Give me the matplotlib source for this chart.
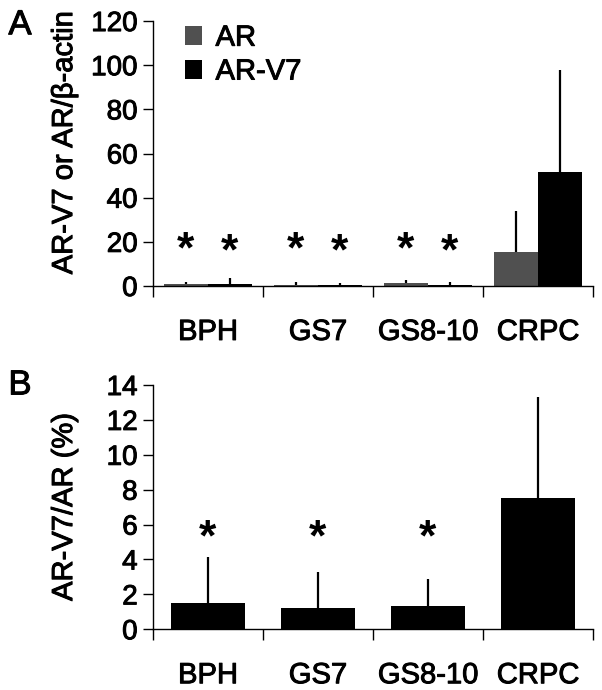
import numpy as np
import matplotlib
matplotlib.use("Agg")
from matplotlib import pyplot as plt
from matplotlib import patheffects as pe

plt.rcParams['font.family'] = ['Liberation Sans', 'DejaVu Sans']

groups = ["BPH", "GS7", "GS8-10", "CRPC"]

# panel A: expression relative to beta-actin
ar_mean = [0.8, 0.6, 1.2, 15.4]
ar_err = [1.2, 1.0, 1.3, 18.5]
v7_mean = [0.7, 0.4, 0.6, 51.7]
v7_err = [2.9, 1.0, 1.1, 46.2]
star_a_ar = [16, 16, 16]
star_a_v7 = [15, 15, 15]

# panel B: AR-V7/AR ratio
ratio_mean = [1.53, 1.21, 1.31, 7.5]
ratio_err = [2.6, 2.05, 1.6, 5.8]
star_b = [5.2, 5.2, 5.2]

ar_color = "#505050"
v7_color = "#000000"

# slightly heavier strokes, the scanned figure looks thicker than plain regular
heavy = [pe.withStroke(linewidth=0.7, foreground='black')]

fig = plt.figure(figsize=(6.02, 6.90), dpi=100)
axA = fig.add_axes([0.254, 0.5855, 0.731, 0.384])
axB = fig.add_axes([0.254, 0.088, 0.731, 0.354])

x = np.arange(len(groups))


def style(ax, ymax, step):
    ax.spines['top'].set_visible(False)
    ax.spines['right'].set_visible(False)
    ax.spines['left'].set_linewidth(1.0)
    ax.spines['bottom'].set_linewidth(1.0)
    ax.set_xlim(-0.5, len(groups) - 0.5)
    ax.set_ylim(0, ymax)
    ax.set_yticks(np.arange(0, ymax + 0.1, step))
    ax.tick_params(axis='y', direction='out', length=7, width=1, labelsize=20, pad=4)
    # separators between groups as major ticks, names as minor ticks
    ax.set_xticks(np.arange(-0.5, len(groups), 1.0))
    ax.set_xticklabels([])
    ax.tick_params(axis='x', which='major', direction='out', length=8, width=1)
    ax.set_xticks(x, minor=True)
    ax.set_xticklabels(groups, minor=True)
    ax.tick_params(axis='x', which='minor', length=0, labelsize=21, pad=23)
    for t in ax.get_yticklabels() + ax.get_xticklabels(minor=True):
        t.set_path_effects(heavy)


# ---- A
w = 0.4
axA.bar(x - w / 2, ar_mean, w, color=ar_color, label="AR",
        yerr=[np.zeros(4), ar_err], error_kw=dict(ecolor='black', elinewidth=1.6, capsize=0))
axA.bar(x + w / 2, v7_mean, w, color=v7_color, label="AR-V7",
        yerr=[np.zeros(4), v7_err], error_kw=dict(ecolor='black', elinewidth=1.6, capsize=0))
for i in range(3):
    axA.text(x[i] - w / 2, star_a_ar[i], "*", ha='center', va='center', fontsize=32, fontweight='bold')
    axA.text(x[i] + w / 2, star_a_v7[i], "*", ha='center', va='center', fontsize=32, fontweight='bold')
style(axA, 120, 20)
axA.set_ylabel("AR-V7 or AR/\u03b2-actin", fontsize=21, path_effects=heavy)
axA.yaxis.set_label_coords(-0.17, 0.54)
leg = axA.legend(loc='upper left', bbox_to_anchor=(0.0727, 0.99), frameon=False, fontsize=21,
                 borderpad=0, borderaxespad=0,
                 handlelength=0.6, handleheight=0.6, handletextpad=0.45, labelspacing=0.2)
for t in leg.get_texts():
    t.set_path_effects(heavy)

# ---- B
axB.bar(x, ratio_mean, 0.67, color='black',
        yerr=[np.zeros(4), ratio_err], error_kw=dict(ecolor='black', elinewidth=1.6, capsize=0))
for i in range(3):
    axB.text(x[i], star_b[i], "*", ha='center', va='center', fontsize=32, fontweight='bold')
style(axB, 14, 2)
axB.set_ylabel("AR-V7/AR (%)", fontsize=21, path_effects=heavy)
axB.yaxis.set_label_coords(-0.17, 0.5)

fig.text(0.014, 0.988, "A", fontsize=25, va='top', path_effects=heavy)
fig.text(0.014, 0.466, "B", fontsize=25, va='top', path_effects=heavy)

fig.savefig("out.png", dpi=100)
